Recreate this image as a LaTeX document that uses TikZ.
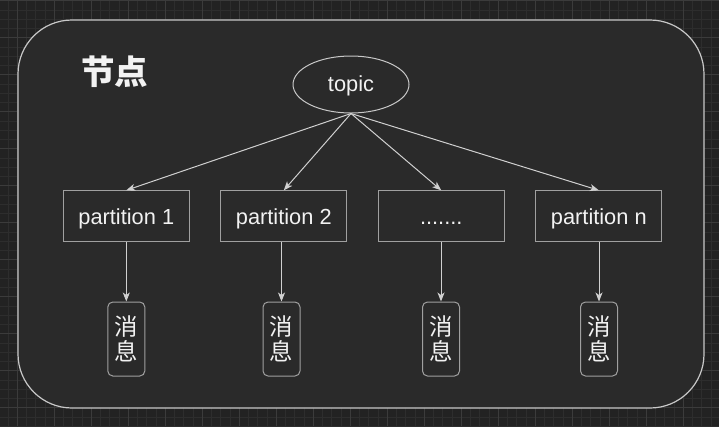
\documentclass[tikz,border=0pt]{standalone}
\usepackage{fontspec}
\setmainfont{Liberation Sans}
\newfontfamily\cjk{Noto Sans CJK SC}
\usetikzlibrary{shapes.geometric,arrows.meta}
\definecolor{bgc}{HTML}{222222}
\definecolor{gridminor}{HTML}{2D2D2D}
\definecolor{gridmajor}{HTML}{3B3B3B}
\definecolor{panel}{HTML}{2A2A2A}
\definecolor{panelline}{HTML}{C8C8C8}
\definecolor{boxline}{HTML}{A0A0A0}
\definecolor{txt}{HTML}{F2F2F2}
\definecolor{arr}{HTML}{D0D0D0}
\tikzset{
  minorline/.style={gridminor, line width=0.8pt},
  majorline/.style={gridmajor, line width=0.9pt},
  partbox/.style={draw=boxline, line width=1pt, minimum width=126pt, minimum height=51pt, inner sep=0pt, text height=20pt, text depth=4.6pt, text=txt, font=\fontsize{21.8}{24}\selectfont},
  msgbox/.style={draw=boxline, line width=1pt, rounded corners=5pt, minimum width=37pt, minimum height=74pt, inner sep=0pt, text=txt, align=center, font=\cjk\fontsize{23.5}{25}\selectfont},
  topicnode/.style={ellipse, draw=panelline, line width=1pt, minimum width=116pt, minimum height=57pt, inner sep=0pt, text height=19pt, text depth=5pt, text=txt, font=\fontsize{21.8}{24}\selectfont},
  link/.style={arr, line width=1pt, -{Stealth[length=9pt,width=7pt,inset=2.5pt]}}
}
\begin{document}
\begin{tikzpicture}[x=1pt,y=-1pt]
\useasboundingbox (0,0) rectangle (719,426);
\fill[bgc] (0,0) rectangle (719,426);
\foreach \i in {-1,...,76} {\draw[minorline] ({17.3+9.25*\i},0) -- ({17.3+9.25*\i},426);}
\foreach \i in {0,...,46} {\draw[minorline] (0,{0.7+9.25*\i}) -- (719,{0.7+9.25*\i});}
\foreach \i in {0,...,19} {\draw[majorline] ({17.3+37*\i},0) -- ({17.3+37*\i},426);}
\foreach \i in {0,...,11} {\draw[majorline] (0,{0.7+37*\i}) -- (719,{0.7+37*\i});}
\draw[panelline, fill=panel, line width=1.2pt, rounded corners=54pt] (18,20) rectangle (704,408);
\node[text=txt, font=\cjk\bfseries\fontsize{33.5}{35}\selectfont] (title) at (114.5,72) {节点};
\node[topicnode] (topic) at (351,84.5) {topic};
\node[partbox] (p1) at (126.3,216.3) {partition 1};
\node[partbox] (p2) at (283.8,216.3) {partition 2};
\node[partbox] (p3) at (441.2,216.3) {.......};
\node[partbox] (p4) at (598.8,216.3) {partition n};
\node[msgbox] (m1) at (126.3,339) {消\\息};
\node[msgbox] (m2) at (281.5,339) {消\\息};
\node[msgbox] (m3) at (441,339) {消\\息};
\node[msgbox] (m4) at (599,339) {消\\息};
\foreach \k in {1,2,3,4} {
  \draw[link] (topic.south) -- (p\k.north);
  \draw[link] (p\k.south -| m\k.north) -- (m\k.north);
}
\end{tikzpicture}
\end{document}
